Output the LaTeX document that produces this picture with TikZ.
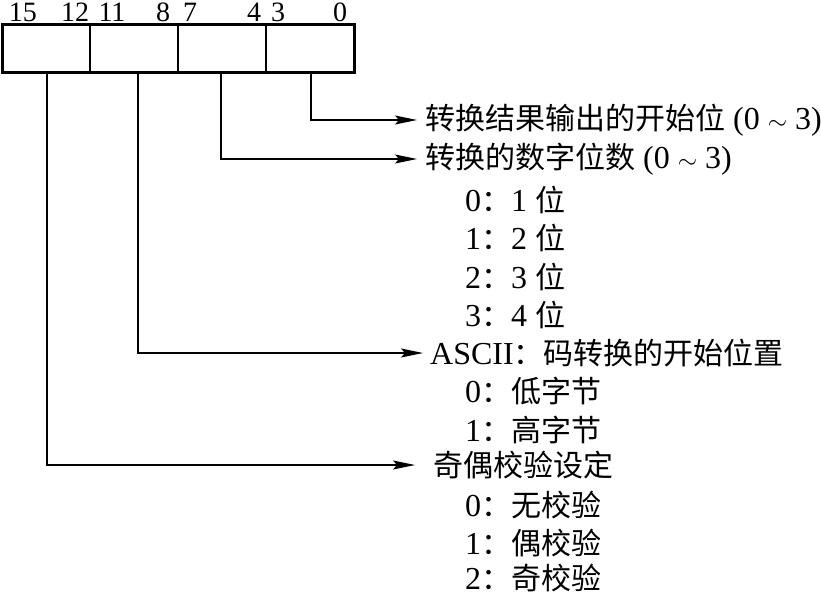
\documentclass[tikz,border=0pt]{standalone}
\usepackage{fontspec}
\setmainfont{Liberation Serif}
\newfontfamily\zhfont{Noto Sans CJK SC}
\newcommand{\zh}[1]{{\zhfont\fontsize{30}{32}\selectfont #1}}
\usetikzlibrary{arrows.meta}
\begin{document}
\begin{tikzpicture}[x=1pt,y=-1pt,
  field/.style={draw,line width=1.6pt,minimum width=88pt,minimum height=48pt,inner sep=0pt,outer sep=0pt,anchor=north west},
  bit/.style={font=\fontsize{28}{30}\selectfont,inner sep=0pt,text height=18pt,text depth=0pt,anchor=base},
  lbl/.style={font=\fontsize{32}{34}\selectfont,anchor=west,inner sep=0pt},
  arr/.style={line width=1.6pt,-{Stealth[length=22pt,width=9pt,inset=4pt]}},
  ln/.style={line width=1.6pt}]
\useasboundingbox (0,0) rectangle (821,596);
% register
\node[field] (f3) at (2,25) {};
\node[field] (f2) at (90,25) {};
\node[field] (f1) at (178,25) {};
\node[field] (f0) at (266,25) {};
\draw[line width=3pt] (f3.north west) rectangle (f0.south east);
% bit numbers
\node[bit] (b15) at (23,22) {15};
\node[bit] (b12) at (75,22) {12};
\node[bit] (b11) at (112,22) {11};
\node[bit] (b8) at (163,22) {8};
\node[bit] (b7) at (190,22) {7};
\node[bit] (b4) at (254,22) {4};
\node[bit] (b3) at (278,22) {3};
\node[bit] (b0) at (340,22) {0};
% labels
\node[lbl] (t0) at (425,120) {\zh{转换结果输出的开始位} (0 $\sim$ 3)};
\node[lbl] (t1) at (425,159) {\zh{转换的数字位数} (0 $\sim$ 3)};
\node[lbl] (t1a) at (465,200) {0\zh{：}1 \zh{位}};
\node[lbl] (t1b) at (465,238) {1\zh{：}2 \zh{位}};
\node[lbl] (t1c) at (465,277) {2\zh{：}3 \zh{位}};
\node[lbl] (t1d) at (465,315) {3\zh{：}4 \zh{位}};
\node[lbl] (t2) at (430,353) {ASCII\zh{：码转换的开始位置}};
\node[lbl] (t2a) at (465,391) {0\zh{：低字节}};
\node[lbl] (t2b) at (465,430) {1\zh{：高字节}};
\node[lbl] (t3) at (433,465) {\zh{奇偶校验设定}};
\node[lbl] (t3a) at (465,505) {0\zh{：无校验}};
\node[lbl] (t3b) at (465,543) {1\zh{：偶校验}};
\node[lbl] (t3c) at (465,578) {2\zh{：奇校验}};
% connectors
\draw[arr] ([xshift=1pt]f0.south) |- ([xshift=-8pt]t0.west);
\draw[arr] ([xshift=-1pt]f1.south) |- ([xshift=-8pt]t1.west);
\draw[arr] ([xshift=4pt]f2.south) |- ([xshift=-7pt]t2.west);
\draw[arr] ([xshift=1pt]f3.south) |- ([xshift=-18pt]t3.west);
\end{tikzpicture}
\end{document}
